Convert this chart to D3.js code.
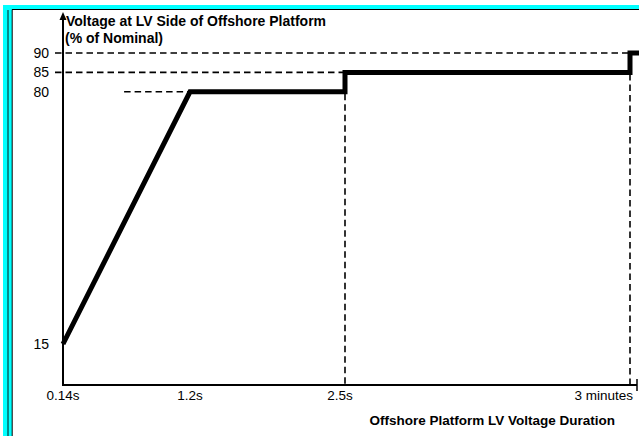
<!DOCTYPE html>
<html>
<head>
<meta charset="utf-8">
<script src="https://cdn.jsdelivr.net/npm/d3@7"></script>
<style>
  html, body { margin: 0; padding: 0; background: #fff; }
  svg { display: block; }
  text { font-family: "Liberation Sans", Arial, sans-serif; fill: #000; }
</style>
</head>
<body>
<svg id="chart" width="639" height="436"></svg>
<script>
// ---- data ----
const timeTickLabels = ["0.14s", "1.2s", "2.5s", "3 minutes"];
const timeTickValues = [0.14, 1.2, 2.5, 180];
const voltageTicks = [15, 80, 85, 90];
const curveTime = [0.14, 1.2, 2.5, 2.5, 180, 180, 186];
const curveVoltage = [15, 80, 80, 85, 85, 90, 90];
const yTitleLines = ["Voltage at LV Side of Offshore Platform", "(% of Nominal)"];
const xTitle = "Offshore Platform LV Voltage Duration";
const guide80Start = 0.65; // seconds, start of the dashed 80% guide

// ---- layout ----
const svg = d3.select("#chart");
const W = 639, H = 436;
const axisX = 63, axisY = 385, axisTop = 12, axisRight = 637;

// schematic (piecewise) time scale
const x = d3.scaleLinear()
  .domain([0.14, 1.2, 2.5, 180, 186])
  .range([63, 190, 345, 630, 639]);
const y = d3.scaleLinear().domain([15, 90]).range([344, 53]);

// frame
svg.append("rect").attr("x", 3).attr("y", 5).attr("width", W - 3).attr("height", 4.5).attr("fill", "#00FFFF");
svg.append("rect").attr("x", 3).attr("y", 5).attr("width", 9).attr("height", H - 5).attr("fill", "#00FFFF");
svg.append("rect").attr("x", 7).attr("y", 10).attr("width", 2).attr("height", H - 10).attr("fill", "#008B8B");
svg.append("line").attr("x1", 12).attr("x2", W).attr("y1", 9.5).attr("y2", 9.5).attr("stroke", "#000").attr("stroke-width", 1);
svg.append("line").attr("x1", 12.2).attr("x2", 12.2).attr("y1", 9.5).attr("y2", H).attr("stroke", "#000").attr("stroke-width", 1);

// dashed guides
const dash = "6.5,4";
const g = svg.append("g").attr("stroke", "#000").attr("stroke-width", 1.6).attr("stroke-dasharray", dash).attr("fill", "none");
g.append("line").attr("x1", 55).attr("x2", x(180)).attr("y1", y(90)).attr("y2", y(90));
g.append("line").attr("x1", 55).attr("x2", x(2.5)).attr("y1", y(85)).attr("y2", y(85));
g.append("line").attr("x1", x(guide80Start)).attr("x2", x(1.2)).attr("y1", y(80)).attr("y2", y(80));
g.append("line").attr("x1", x(2.5)).attr("x2", x(2.5)).attr("y1", y(80) + 2).attr("y2", axisY);
g.append("line").attr("x1", x(180)).attr("x2", x(180)).attr("y1", y(90)).attr("y2", axisY);

// axes
svg.append("line").attr("x1", axisX).attr("x2", axisX).attr("y1", axisY + 1).attr("y2", axisTop + 4)
  .attr("stroke", "#000").attr("stroke-width", 2);
svg.append("path").attr("d", `M${axisX},${axisTop} L${axisX - 3.5},${axisTop + 8} L${axisX + 3.5},${axisTop + 8} Z`).attr("fill", "#000");
svg.append("line").attr("x1", axisX - 1).attr("x2", axisRight).attr("y1", axisY).attr("y2", axisY)
  .attr("stroke", "#000").attr("stroke-width", 2);
svg.append("line").attr("x1", axisRight).attr("x2", axisRight).attr("y1", axisY - 6).attr("y2", axisY + 6)
  .attr("stroke", "#000").attr("stroke-width", 1.5);

// curve
const curve = curveTime.map((t, i) => [x(t), y(curveVoltage[i])]);
svg.append("path").attr("d", d3.line()(curve))
  .attr("fill", "none").attr("stroke", "#000").attr("stroke-width", 5)
  .attr("stroke-linejoin", "miter").attr("stroke-linecap", "butt");

// y tick labels
svg.append("g").selectAll("text").data(voltageTicks).join("text")
  .attr("x", 49).attr("y", d => y(d)).attr("dy", "0.36em")
  .attr("text-anchor", "end").attr("font-size", 14).text(d => d);

// x tick labels
svg.append("g").selectAll("text").data(timeTickLabels).join("text")
  .attr("x", (d, i) => i === timeTickLabels.length - 1 ? x(timeTickValues[i]) + 3 : x(timeTickValues[i]) - (i === 2 ? 5 : 0))
  .attr("y", 399.5)
  .attr("text-anchor", (d, i) => i === timeTickLabels.length - 1 ? "end" : "middle")
  .attr("font-size", 13.5).text(d => d);

// titles
svg.append("g").selectAll("text").data(yTitleLines).join("text")
  .attr("x", (d, i) => i === 0 ? 66 : 65).attr("y", (d, i) => 25.5 + i * 17.5)
  .attr("font-size", 14).attr("font-weight", "bold").text(d => d);
svg.append("text").attr("x", 615).attr("y", 425).attr("text-anchor", "end")
  .attr("font-size", 13.5).attr("font-weight", "bold").text(xTitle);
</script>
</body>
</html>
